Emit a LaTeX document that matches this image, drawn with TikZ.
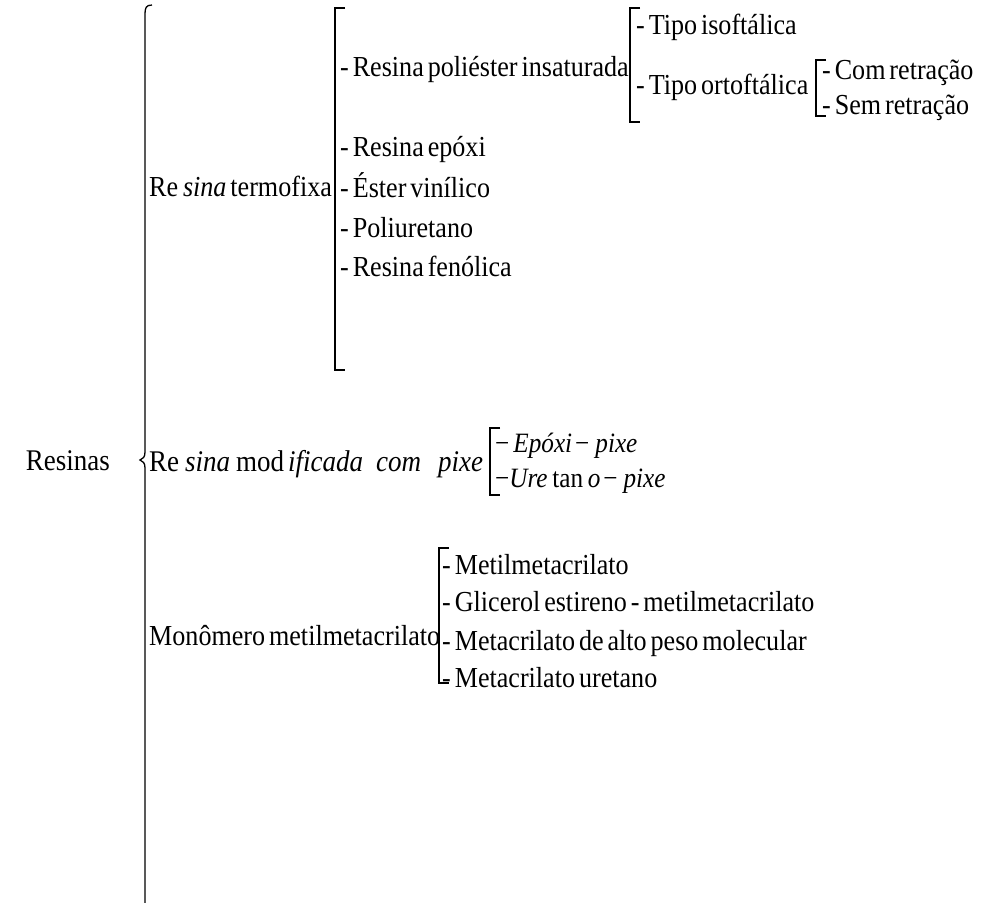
\documentclass[tikz,border=0pt]{standalone}
\usepackage{fontspec}
\setmainfont{Liberation Serif}[FakeStretch=0.90, WordSpace=0.6]
\usetikzlibrary{calc}

% square bracket from (x,top) to (x,bottom)
\newcommand{\sqbrak}[3]{\draw[brak] (#1+10,#2) -- (#1,#2) -- (#1,#3) -- (#1+10,#3);}

\begin{document}
\begin{tikzpicture}[x=1pt, y=-1pt,
	brak/.style={line width=1.3pt},
	txt/.style={anchor=base west, inner sep=0pt, font=\fontsize{29}{32}\selectfont},
	mtxt/.style={txt, font=\fontsize{28}{32}\selectfont}]
	
	\useasboundingbox (0,0) rectangle (989,903);
	
	% ----- root and big brace
	\node[txt, anchor=base east, font=\fontsize{30}{34}\selectfont] (resinas) at (110,470) {Resinas};
	\draw[brak] (152,5) .. controls (146,5) and (145,8) .. (145,14)
		-- (145,452) .. controls (145,457) and (143,459) .. (140,460)
		.. controls (143,461) and (145,463) .. (145,468) -- (145,903);
	
	% ----- first branch: termofixa
	\node[txt] (termo) at (149,196) {Re\,\textit{sina} termofixa};
	\sqbrak{335}{8}{370}
	\node[txt] (poli) at (340,76) {- Resina poliéster insaturada};
	\node[txt] (epoxi) at (340,156) {- Resina epóxi};
	\node[txt] (ester) at (340,197) {- Éster vinílico};
	\node[txt] (pu) at (340,237) {- Poliuretano};
	\node[txt] (fenol) at (340,276) {- Resina fenólica};
	
	% poliéster types
	\sqbrak{630}{8}{122}
	\node[txt] (iso) at (636,34) {- Tipo isoftálica};
	\node[txt] (orto) at (636,94) {- Tipo ortoftálica};
	
	% ortoftálica types
	\sqbrak{816}{60}{116}
	\node[txt] (com) at (822,79) {- Com retração};
	\node[txt] (sem) at (822,114) {- Sem retração};
	
	% ----- second branch: modificada com pixe
	\node[mtxt, font=\fontsize{30}{34}\selectfont] (modif) at (149,471) {Re\hspace{6pt}\textit{sina}\hspace{6pt}mod\hspace{4pt}\textit{ificada\hspace{13pt}com\hspace{17pt}pixe}};
	\sqbrak{490}{428}{495}
	\node[mtxt] (epix) at (495,452) {−\hspace{4pt}\textit{Epóxi}\hspace{3pt}−\hspace{6pt}\textit{pixe}};
	\node[mtxt] (upix) at (495,487) {−\textit{Ure}\,tan\,\textit{o}\hspace{3pt}−\hspace{6pt}\textit{pixe}};
	
	% ----- third branch: monômero
	\node[txt] (mono) at (149,645) {Monômero metilmetacrilato};
	\sqbrak{439}{548}{683}
	\node[txt] (mma) at (442,574) {- Metilmetacrilato};
	\node[txt] (glic) at (442,611) {- Glicerol estireno - metilmetacrilato};
	\node[txt] (alto) at (442,650) {- Metacrilato de alto peso molecular};
	\node[txt] (uret) at (442,687) {- Metacrilato uretano};
	
\end{tikzpicture}
\end{document}
